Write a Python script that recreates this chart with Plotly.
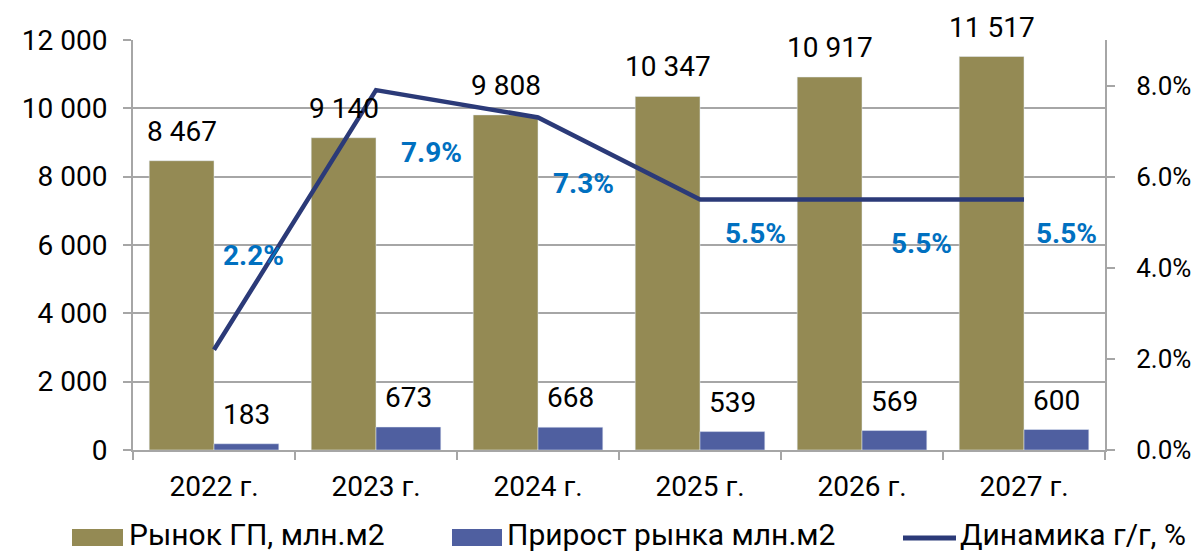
import plotly.graph_objects as go

categories = ["2022 г.", "2023 г.", "2024 г.", "2025 г.", "2026 г.", "2027 г."]
market = [8467, 9140, 9808, 10347, 10917, 11517]
growth = [183, 673, 668, 539, 569, 600]
dynamics = [0.022, 0.079, 0.073, 0.055, 0.055, 0.055]

names = ["Рынок ГП, млн.м2", "Прирост рынка млн.м2", "Динамика г/г, %"]

# style: placement of the % labels (manual in the original)
pct_label_y = [0.0428, 0.0652, 0.0586, 0.0476, 0.0454, 0.0476]
pct_label_dx = [39, 55, 45, 55, 59, 42]

C_OLIVE = "#948A54"
C_BLUE = "#4F5FA0"
C_LINE = "#2B3A78"
C_LBL = "#0070C0"
C_AX = "#A6A6A6"
FONT = "Roboto"
FS = 28

W, H = 1198, 551
L, R, T, B = 133, 93, 40, 101
PW, PH = W - L - R, H - T - B

fig = go.Figure()
fig.add_trace(go.Bar(x=categories, y=market, name=names[0], marker_color=C_OLIVE,
                     offsetgroup="a", showlegend=False))
fig.add_trace(go.Bar(x=categories, y=growth, name=names[1], marker_color=C_BLUE,
                     offsetgroup="b", showlegend=False))
fig.add_trace(go.Scatter(x=categories, y=dynamics, name=names[2], mode="lines",
                         line=dict(color=C_LINE, width=4.5), yaxis="y2", showlegend=False))

bar_w = PW / len(categories) * 0.8 / 2
fmt = lambda v: f"{v:,}".replace(",", " ")
ann = []
for i, c in enumerate(categories):
    ann.append(dict(x=c, y=market[i], xref="x", yref="y", text=fmt(market[i]),
                    xshift=-bar_w / 2, yshift=11, yanchor="bottom", showarrow=False,
                    font=dict(family=FONT, size=FS, color="#000")))
    ann.append(dict(x=c, y=growth[i], xref="x", yref="y", text=fmt(growth[i]),
                    xshift=bar_w / 2, yshift=11, yanchor="bottom", showarrow=False,
                    font=dict(family=FONT, size=FS, color="#000")))
    ann.append(dict(x=c, y=pct_label_y[i], xref="x", yref="y2", text=f"<b>{dynamics[i]*100:.1f}%</b>",
                    xshift=pct_label_dx[i], showarrow=False,
                    font=dict(family=FONT, size=FS, color=C_LBL)))

# manual legend
def px(x):
    return (x - L) / PW
def py(y):
    return (H - B - y) / PH

shapes = [
    dict(type="rect", xref="paper", yref="paper", x0=px(72), x1=px(123), y0=py(546), y1=py(529),
         fillcolor=C_OLIVE, line=dict(width=0)),
    dict(type="rect", xref="paper", yref="paper", x0=px(452), x1=px(502), y0=py(546), y1=py(529),
         fillcolor=C_BLUE, line=dict(width=0)),
    dict(type="line", xref="paper", yref="paper", x0=px(903), x1=px(956), y0=py(538), y1=py(538),
         line=dict(color=C_LINE, width=5)),
]
for xpos, nm in zip([127, 505, 958], names):
    ann.append(dict(x=px(xpos), y=py(534), xref="paper", yref="paper", text=nm, xanchor="left",
                    yanchor="middle", showarrow=False, font=dict(family=FONT, size=30, color="#000")))

fig.update_layout(
    width=W, height=H, margin=dict(l=L, r=R, t=T, b=B, autoexpand=False),
    paper_bgcolor="white", plot_bgcolor="white",
    barmode="group", bargap=0.2, bargroupgap=0,
    separators=". ",
    font=dict(family=FONT, size=FS, color="#000"),
    annotations=ann, shapes=shapes,
    xaxis=dict(type="category", showline=True, linecolor=C_AX, linewidth=2,
               ticks="outside", tickson="boundaries", ticklen=8, tickcolor=C_AX, tickwidth=2,
               tickfont=dict(family=FONT, size=FS), showgrid=False, ticklabelstandoff=10,
               automargin=False),
    yaxis=dict(range=[0, 12000], dtick=2000, tickformat=",d", showline=True, linecolor=C_AX,
               linewidth=2, ticks="outside", ticklen=8, tickcolor=C_AX, tickwidth=2,
               gridcolor=C_AX, gridwidth=2, tickfont=dict(family=FONT, size=FS),
               ticklabelstandoff=10, zeroline=False, automargin=False),
    yaxis2=dict(range=[0, 0.09], tickvals=[0, 0.02, 0.04, 0.06, 0.08], tickformat=".1%",
                overlaying="y", side="right", showline=True, linecolor=C_AX, linewidth=2,
                ticks="outside", ticklen=8, tickcolor=C_AX, tickwidth=2, showgrid=False,
                tickfont=dict(family=FONT, size=26), ticklabelstandoff=16, zeroline=False,
                automargin=False),
)

fig.write_html("out.html", config={"displayModeBar": False},
               post_script="document.body.style.margin='0';document.body.style.overflow='hidden';")
